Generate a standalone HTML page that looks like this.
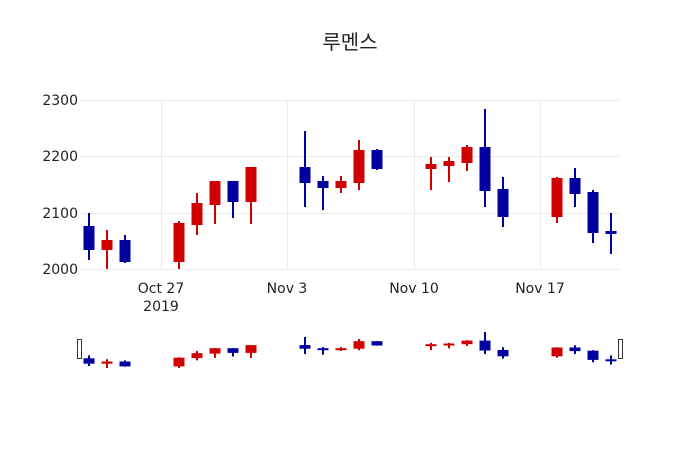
<!DOCTYPE html>
<html><head><meta charset="utf-8"><style>
html,body{margin:0;padding:0;background:#fff}
svg{display:block}
text{font-family:"DejaVu Sans","Liberation Sans",sans-serif;font-size:14px;fill:#222}
.r{fill:#d10000;stroke:#d10000}
.b{fill:#0000a0;stroke:#0000a0}
line{stroke-width:2}
rect.r,rect.b{stroke:none}
</style></head><body>
<svg width="700" height="450" viewBox="0 0 700 450" xmlns="http://www.w3.org/2000/svg">
<rect width="700" height="450" fill="#fff"/>
<text x="350" y="49" text-anchor="middle" style="font-family:'Noto Sans CJK KR','NanumGothic',sans-serif;font-size:20px">루멘스</text>
<g stroke="#ebebeb" stroke-width="1">
<line x1="80" y1="269.5" x2="620" y2="269.5" style="stroke-width:1"/>
<line x1="80" y1="213.5" x2="620" y2="213.5" style="stroke-width:1"/>
<line x1="80" y1="156.5" x2="620" y2="156.5" style="stroke-width:1"/>
<line x1="80" y1="100.5" x2="620" y2="100.5" style="stroke-width:1"/>
<line x1="161.5" y1="100" x2="161.5" y2="270" style="stroke-width:1"/>
<line x1="287.5" y1="100" x2="287.5" y2="270" style="stroke-width:1"/>
<line x1="414.5" y1="100" x2="414.5" y2="270" style="stroke-width:1"/>
<line x1="540.5" y1="100" x2="540.5" y2="270" style="stroke-width:1"/>
</g>
<g text-anchor="end">
<text x="78" y="274">2000</text>
<text x="78" y="218">2100</text>
<text x="78" y="161">2200</text>
<text x="78" y="105">2300</text>
</g>
<g text-anchor="middle">
<text x="161" y="293">Oct 27</text>
<text x="161" y="311">2019</text>
<text x="287" y="293">Nov 3</text>
<text x="414" y="293">Nov 10</text>
<text x="540" y="293">Nov 17</text>
</g>
<!-- main candles -->
<line class="b" x1="89" x2="89" y1="213" y2="260"/><rect class="b" x="83.5" y="226" width="11" height="24"/>
<line class="r" x1="107" x2="107" y1="230" y2="269"/><rect class="r" x="101.5" y="240" width="11" height="10"/>
<line class="b" x1="125" x2="125" y1="235" y2="263"/><rect class="b" x="119.5" y="240" width="11" height="22"/>
<line class="r" x1="179" x2="179" y1="221" y2="269"/><rect class="r" x="173.5" y="223" width="11" height="39"/>
<line class="r" x1="197" x2="197" y1="193" y2="235"/><rect class="r" x="191.5" y="203" width="11" height="22"/>
<line class="r" x1="215" x2="215" y1="181" y2="224"/><rect class="r" x="209.5" y="181" width="11" height="24"/>
<line class="b" x1="233" x2="233" y1="181" y2="218"/><rect class="b" x="227.5" y="181" width="11" height="21"/>
<line class="r" x1="251" x2="251" y1="167" y2="224"/><rect class="r" x="245.5" y="167" width="11" height="35"/>
<line class="b" x1="305" x2="305" y1="131" y2="207"/><rect class="b" x="299.5" y="167" width="11" height="16"/>
<line class="b" x1="323" x2="323" y1="176" y2="210"/><rect class="b" x="317.5" y="181" width="11" height="7"/>
<line class="r" x1="341" x2="341" y1="176" y2="193"/><rect class="r" x="335.5" y="181" width="11" height="7"/>
<line class="r" x1="359" x2="359" y1="140" y2="190"/><rect class="r" x="353.5" y="150" width="11" height="33"/>
<line class="b" x1="377" x2="377" y1="149" y2="170"/><rect class="b" x="371.5" y="150" width="11" height="19"/>
<line class="r" x1="431" x2="431" y1="157" y2="190"/><rect class="r" x="425.5" y="164" width="11" height="5"/>
<line class="r" x1="449" x2="449" y1="157" y2="182"/><rect class="r" x="443.5" y="161" width="11" height="5"/>
<line class="r" x1="467" x2="467" y1="145" y2="171"/><rect class="r" x="461.5" y="147" width="11" height="16"/>
<line class="b" x1="485" x2="485" y1="109" y2="207"/><rect class="b" x="479.5" y="147" width="11" height="44"/>
<line class="b" x1="503" x2="503" y1="177" y2="227"/><rect class="b" x="497.5" y="189" width="11" height="28"/>
<line class="r" x1="557" x2="557" y1="177" y2="223"/><rect class="r" x="551.5" y="178" width="11" height="39"/>
<line class="b" x1="575" x2="575" y1="168" y2="207"/><rect class="b" x="569.5" y="178" width="11" height="16"/>
<line class="b" x1="593" x2="593" y1="190" y2="243"/><rect class="b" x="587.5" y="192" width="11" height="41"/>
<line class="b" x1="611" x2="611" y1="213" y2="254"/><rect class="b" x="605.5" y="231" width="11" height="3"/>
<!-- rangeslider candles -->
<line class="b" x1="89" x2="89" y1="355.4" y2="366"/><rect class="b" x="83.5" y="358.3" width="11" height="5.4"/>
<line class="r" x1="107" x2="107" y1="359.2" y2="368"/><rect class="r" x="101.5" y="361.5" width="11" height="2.2"/>
<line class="b" x1="125" x2="125" y1="360.4" y2="366.7"/><rect class="b" x="119.5" y="361.5" width="11" height="4.9"/>
<line class="r" x1="179" x2="179" y1="357.2" y2="368"/><rect class="r" x="173.5" y="357.7" width="11" height="8.7"/>
<line class="r" x1="197" x2="197" y1="350.9" y2="360.4"/><rect class="r" x="191.5" y="353.2" width="11" height="4.9"/>
<line class="r" x1="215" x2="215" y1="348.2" y2="357.9"/><rect class="r" x="209.5" y="348.2" width="11" height="5.4"/>
<line class="b" x1="233" x2="233" y1="348.2" y2="356.5"/><rect class="b" x="227.5" y="348.2" width="11" height="4.7"/>
<line class="r" x1="251" x2="251" y1="345.1" y2="357.9"/><rect class="r" x="245.5" y="345.1" width="11" height="7.8"/>
<line class="b" x1="305" x2="305" y1="337" y2="354"/><rect class="b" x="299.5" y="345.1" width="11" height="3.6"/>
<line class="b" x1="323" x2="323" y1="347.1" y2="354.7"/><rect class="b" x="317.5" y="348.2" width="11" height="2"/>
<line class="r" x1="341" x2="341" y1="347.1" y2="350.9"/><rect class="r" x="335.5" y="348.2" width="11" height="2"/>
<line class="r" x1="359" x2="359" y1="339" y2="350.2"/><rect class="r" x="353.5" y="341.2" width="11" height="7.5"/>
<line class="b" x1="377" x2="377" y1="341" y2="345.7"/><rect class="b" x="371.5" y="341.2" width="11" height="4.3"/>
<line class="r" x1="431" x2="431" y1="342.8" y2="350.2"/><rect class="r" x="425.5" y="344.2" width="11" height="2"/>
<line class="r" x1="449" x2="449" y1="342.8" y2="348.4"/><rect class="r" x="443.5" y="343.5" width="11" height="2"/>
<line class="r" x1="467" x2="467" y1="340.1" y2="346"/><rect class="r" x="461.5" y="340.6" width="11" height="3.6"/>
<line class="b" x1="485" x2="485" y1="332" y2="354"/><rect class="b" x="479.5" y="340.6" width="11" height="9.9"/>
<line class="b" x1="503" x2="503" y1="347.3" y2="358.6"/><rect class="b" x="497.5" y="350" width="11" height="6.3"/>
<line class="r" x1="557" x2="557" y1="347.3" y2="357.7"/><rect class="r" x="551.5" y="347.5" width="11" height="8.8"/>
<line class="b" x1="575" x2="575" y1="345.3" y2="354"/><rect class="b" x="569.5" y="347.5" width="11" height="3.6"/>
<line class="b" x1="593" x2="593" y1="350.2" y2="362.2"/><rect class="b" x="587.5" y="350.7" width="11" height="9.2"/>
<line class="b" x1="611" x2="611" y1="355.4" y2="364.6"/><rect class="b" x="605.5" y="359.3" width="11" height="2"/>
<rect x="77.5" y="339.5" width="4" height="19" fill="#fff" stroke="#333" stroke-width="1"/>
<rect x="618.5" y="339.5" width="4" height="19" fill="#fff" stroke="#333" stroke-width="1"/>
</svg>
</body></html>
